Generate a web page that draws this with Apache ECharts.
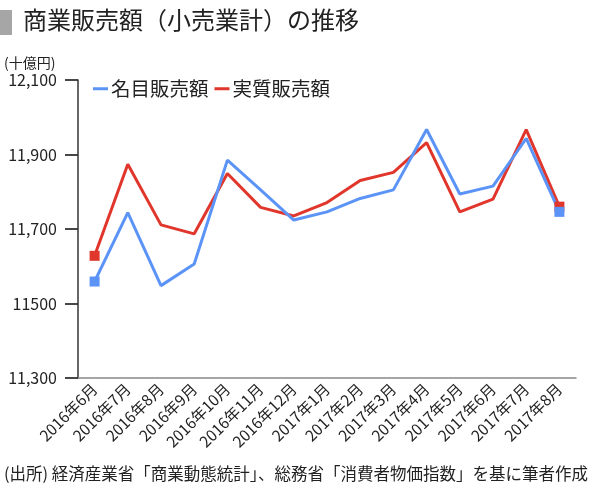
<!DOCTYPE html>
<html>
<head>
<meta charset="utf-8">
<script src="https://cdn.jsdelivr.net/npm/echarts@6/dist/echarts.min.js"></script>
<style>
html,body{margin:0;padding:0;background:#fff;}
#chart{width:600px;height:493px;}
</style>
</head>
<body>
<div id="chart"></div>
<script>
var categories = ['2016年6月','2016年7月','2016年8月','2016年9月','2016年10月','2016年11月','2016年12月','2017年1月','2017年2月','2017年3月','2017年4月','2017年5月','2017年6月','2017年7月','2017年8月'];
var nominalSales = [11559,11744,11548,11606,11885,11805,11724,11746,11782,11805,11967,11794,11815,11943,11746];
var realSales = [11628,11874,11711,11687,11849,11758,11735,11771,11830,11852,11932,11746,11780,11967,11760];
var yTickValues = [11300,11500,11700,11900,12100];
var yTickLabels = ['11,300','11500','11,700','11,900','12,100'];
var seriesNames = ['名目販売額','実質販売額'];

var FONT = '"Noto Sans CJK JP", "Noto Sans", sans-serif';
var chart = echarts.init(document.getElementById('chart'));
function endSymbolSize(v, p){ return (p.dataIndex === 0 || p.dataIndex === categories.length-1) ? 10 : 0; }

chart.setOption({
  animation:false,
  textStyle:{fontFamily:FONT},
  graphic:[
    {type:'rect', shape:{x:0,y:10,width:12,height:25}, style:{fill:'#a6a6a6'}},
    {type:'text', left:23, top:8, style:{text:'商業販売額（小売業計）の推移', font:'24px '+FONT, fill:'#222'}},
    {type:'text', left:4, top:56, style:{text:'(十億円)', font:'14px '+FONT, fill:'#222'}},
    {type:'text', left:4, top:465, style:{text:'(出所) 経済産業省「商業動態統計」、総務省「消費者物価指数」を基に筆者作成', font:'16.5px '+FONT, fill:'#222'}}
  ],
  legend:{
    top:74, left:88,
    data:seriesNames,
    icon:'rect', itemWidth:15, itemHeight:3, itemGap:6,
    textStyle:{fontSize:19.5, color:'#222', fontFamily:FONT, padding:[0,0,0,-2]}
  },
  grid:{left:78, right:24, top:80, bottom:115, containLabel:false},
  xAxis:{
    type:'category', data:categories, boundaryGap:true,
    axisLine:{lineStyle:{color:'#888', width:1.5}},
    axisTick:{show:false},
    axisLabel:{rotate:45, interval:0, fontSize:15.5, color:'#222', margin:8, fontFamily:FONT}
  },
  yAxis:{
    type:'value', min:11300, max:12100, interval:200,
    splitLine:{show:false},
    axisLine:{show:true, lineStyle:{color:'#333', width:1.5}},
    axisTick:{show:true, inside:false, length:13, lineStyle:{color:'#333', width:1.8}},
    axisLabel:{fontSize:16, color:'#222', margin:21, fontFamily:FONT,
      formatter:function(v){ var i = yTickValues.indexOf(v); return i>=0 ? yTickLabels[i] : ''; }}
  },
  series:[
    {name:seriesNames[1], type:'line', data:realSales, symbol:'rect', symbolSize:endSymbolSize, showAllSymbol:true,
     lineStyle:{color:'#e0362b', width:3}, itemStyle:{color:'#e0362b'}, emphasis:{disabled:true}},
    {name:seriesNames[0], type:'line', data:nominalSales, symbol:'rect', symbolSize:endSymbolSize, showAllSymbol:true,
     lineStyle:{color:'#5b94f6', width:3}, itemStyle:{color:'#5b94f6'}, emphasis:{disabled:true}}
  ]
});
</script>
</body>
</html>
